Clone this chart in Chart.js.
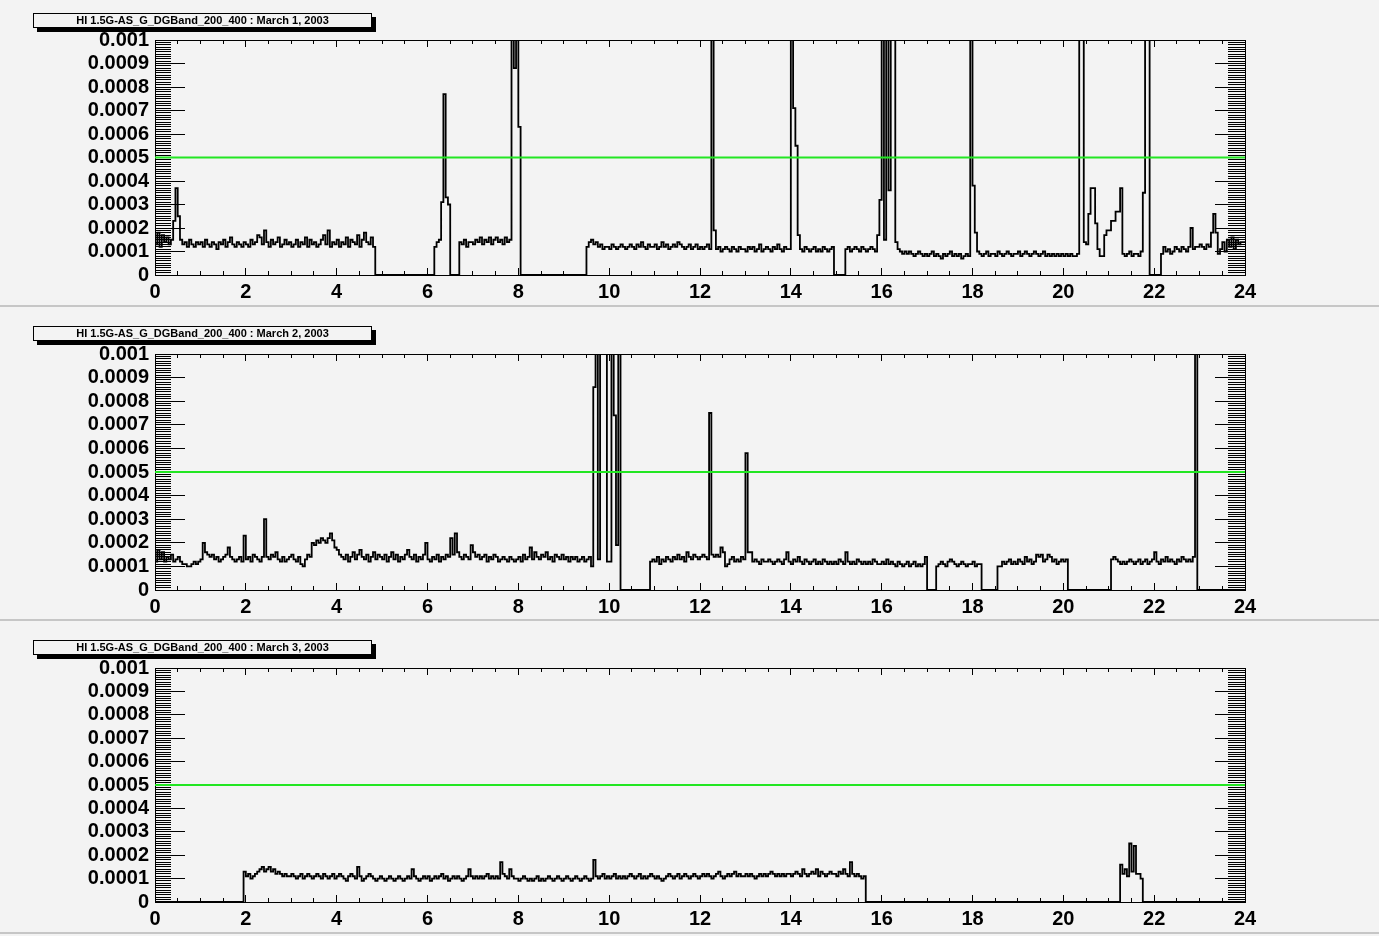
<!DOCTYPE html>
<html>
<head>
<meta charset="utf-8">
<script src="https://cdn.jsdelivr.net/npm/chart.js@4.4.1/dist/chart.umd.min.js"></script>
<style>
  html, body { margin: 0; padding: 0; background: #f3f3f3; }
  #page { position: relative; width: 1379px; height: 936px; overflow: hidden; }
  canvas { position: absolute; left: 0; }
  .sep { position: absolute; left: 0; width: 1379px; height: 2px; background: #c6c6c6; }
  .title {
    position: absolute; left: 33px; width: 337px; height: 13px;
    border: 1px solid #000; background: #f3f3f3; box-shadow: 4px 4px 0 #000;
    font: bold 11px "Liberation Sans", Arial, sans-serif; line-height: 13px;
    text-align: center; white-space: nowrap; z-index: 2;
  }
</style>
</head>
<body>
<div id="page">
  <canvas id="c1" width="1379" height="290" style="top:20px"></canvas>
  <canvas id="c2" width="1379" height="290" style="top:334px"></canvas>
  <canvas id="c3" width="1379" height="290" style="top:648px"></canvas>
  <div class="title" id="t1" style="top:13px"></div>
  <div class="title" id="t2" style="top:326px"></div>
  <div class="title" id="t3" style="top:640px"></div>
  <div class="sep" style="top:305px"></div>
  <div class="sep" style="top:619px"></div>
  <div class="sep" style="top:932px"></div>
</div>
<script>
const titles = [
  "HI 1.5G-AS_G_DGBand_200_400 : March 1, 2003",
  "HI 1.5G-AS_G_DGBand_200_400 : March 2, 2003",
  "HI 1.5G-AS_G_DGBand_200_400 : March 3, 2003",
];
const hourMax = 24;
const binWidth = 0.05; // hours per bin
const yMax = 0.001;
const threshold = 0.0005;
const unit = 1e-5; // bin values below are in units of 1e-5

// one row = one hour (20 bins)
const march1 = [
  16,13,18,12,17,14,16,13,15,23,37,25,15,13,14,12,15,13,12,14,
  13,14,12,15,13,12,14,13,11,14,13,15,12,14,16,13,12,14,13,12,
  14,13,12,15,13,14,17,16,13,19,14,12,15,13,14,16,12,13,15,13,
  14,12,13,15,12,14,13,16,12,15,13,14,12,13,15,17,13,19,12,14,
  13,15,12,14,13,16,12,15,14,13,17,12,15,18,14,13,16,12,0,0,
  0,0,0,0,0,0,0,0,0,0,0,0,0,0,0,0,0,0,0,0,
  0,0,0,0,12,14,15,31,77,33,30,0,0,0,0,14,13,15,12,14,
  14,13,15,14,16,13,15,14,16,13,15,16,14,15,13,16,14,15,120,88,
  120,63,0,0,0,0,0,0,0,0,0,0,0,0,0,0,0,0,0,0,
  0,0,0,0,0,0,0,0,0,0,0,12,14,15,13,14,12,13,11,12,
  12,11,13,12,11,12,13,12,11,12,13,12,11,13,12,14,12,11,13,12,
  12,13,11,12,14,12,13,11,12,13,12,14,13,12,11,12,13,11,12,13,
  11,12,11,12,13,11,120,19,11,12,10,11,12,11,10,12,11,10,12,11,
  11,10,12,11,12,10,11,13,10,11,12,11,10,12,11,13,11,10,12,11,
  11,120,71,55,17,11,10,12,11,10,11,12,10,11,10,12,11,10,11,12,
  0,0,0,0,0,11,12,10,11,12,11,10,12,11,10,11,12,11,10,17,
  32,120,15,120,36,120,120,14,11,10,9,10,9,10,9,8,9,10,9,8,
  9,8,9,10,8,9,8,7,9,8,9,10,8,9,8,9,7,8,9,8,
  120,38,18,10,9,8,9,10,8,9,9,8,10,9,8,9,10,9,8,9,
  9,10,8,9,10,9,8,9,10,9,8,9,10,8,9,8,9,8,9,8,
  9,8,9,8,9,8,8,9,120,120,14,13,26,37,37,22,11,8,8,17,
  19,19,23,23,27,27,37,9,8,9,10,8,9,9,8,10,35,120,120,0,
  0,0,0,0,9,12,10,11,9,10,12,11,10,12,11,10,12,20,11,12,
  12,13,12,11,13,12,18,26,18,9,11,14,10,15,12,16,11,15,13,14,
];

const march2 = [
  14,12,17,13,16,12,14,13,15,12,13,14,12,11,11,10,10,11,12,11,
  12,13,20,16,15,14,15,13,14,12,13,14,15,18,14,13,12,13,14,12,
  23,13,14,12,15,14,13,12,14,30,14,13,15,14,16,13,12,14,12,13,
  14,15,13,12,14,11,10,13,15,14,20,19,21,20,22,21,20,22,24,21,
  18,17,15,14,13,15,12,14,16,13,15,17,14,13,15,12,14,16,13,15,
  14,13,15,12,14,16,13,15,12,14,13,15,17,14,13,15,12,14,13,15,
  20,13,12,14,13,15,12,14,13,15,14,22,15,24,16,14,13,15,14,13,
  19,16,14,15,13,14,15,12,14,13,15,14,12,13,14,13,12,14,13,12,
  13,14,12,15,13,14,18,13,16,14,13,15,14,16,13,14,12,15,14,13,
  15,13,14,12,14,13,14,12,13,14,12,13,14,10,86,120,13,120,120,120,
  12,12,120,74,19,120,0,0,0,0,0,0,0,0,0,0,0,0,0,12,
  13,12,14,11,13,12,14,13,12,14,13,15,13,14,12,16,14,13,15,14,
  13,14,15,14,13,75,15,14,15,14,18,16,10,11,13,14,12,13,12,14,
  13,58,16,16,12,13,12,11,13,12,12,13,12,11,12,13,12,11,13,16,
  12,11,13,12,14,12,11,13,12,11,12,13,11,12,11,13,12,11,12,11,
  12,11,13,12,11,16,12,11,12,11,13,12,11,12,11,12,11,13,12,11,
  11,12,11,13,11,12,11,10,12,11,10,11,12,10,11,12,10,11,10,11,
  14,0,0,0,0,10,11,12,11,10,12,13,12,11,10,11,12,11,10,11,
  11,12,10,11,11,0,0,0,0,0,0,0,10,10,12,11,12,13,11,12,
  11,13,12,11,14,12,13,11,12,15,14,15,12,13,15,14,12,13,11,12,
  13,12,13,0,0,0,0,0,0,0,0,0,0,0,0,0,0,0,0,0,
  0,0,13,14,13,12,11,12,11,12,13,12,11,12,13,11,12,13,11,12,
  13,16,12,11,13,12,14,12,13,12,11,13,12,14,13,12,13,12,14,120,
  0,0,0,0,0,0,0,0,0,0,0,0,0,0,0,0,0,0,0,0,
];

const march3 = [
  0,0,0,0,0,0,0,0,0,0,0,0,0,0,0,0,0,0,0,0,
  0,0,0,0,0,0,0,0,0,0,0,0,0,0,0,0,0,0,0,0,
  13,11,12,10,11,12,13,14,15,13,14,15,13,14,12,13,12,11,12,11,
  11,12,11,10,11,12,10,11,12,11,10,11,12,11,10,12,11,10,11,12,
  10,11,12,11,10,9,11,12,11,10,15,11,9,10,11,12,11,10,9,10,
  11,10,9,10,11,10,9,10,11,10,9,10,11,10,14,11,10,9,10,11,
  10,11,9,10,11,10,11,12,10,11,9,10,11,10,11,10,9,10,11,14,
  11,10,11,10,11,10,11,12,10,11,10,11,10,17,12,11,10,14,11,10,
  10,9,10,11,10,9,10,9,10,11,9,10,9,10,11,10,9,10,11,10,
  9,10,11,10,9,10,11,10,9,10,11,10,9,10,18,11,10,11,12,10,
  11,10,11,12,10,11,10,11,10,11,12,11,10,11,12,10,11,10,11,12,
  11,10,11,10,9,10,11,12,11,10,11,12,10,11,12,11,10,11,12,11,
  10,11,12,11,12,11,10,11,12,13,11,10,11,12,11,12,13,11,12,11,
  11,12,11,12,11,10,11,12,11,12,11,12,13,12,11,12,11,12,11,12,
  12,11,12,13,12,11,14,12,11,12,13,12,14,11,13,12,11,12,13,12,
  12,11,13,12,14,12,11,17,12,11,12,11,10,11,0,0,0,0,0,0,
  0,0,0,0,0,0,0,0,0,0,0,0,0,0,0,0,0,0,0,0,
  0,0,0,0,0,0,0,0,0,0,0,0,0,0,0,0,0,0,0,0,
  0,0,0,0,0,0,0,0,0,0,0,0,0,0,0,0,0,0,0,0,
  0,0,0,0,0,0,0,0,0,0,0,0,0,0,0,0,0,0,0,0,
  0,0,0,0,0,0,0,0,0,0,0,0,0,0,0,0,0,0,0,0,
  0,0,0,0,0,0,16,12,14,11,25,13,24,12,12,10,0,0,0,0,
  0,0,0,0,0,0,0,0,0,0,0,0,0,0,0,0,0,0,0,0,
  0,0,0,0,0,0,0,0,0,0,0,0,0,0,0,0,0,0,0,0,
];

const labelFont = { family: "'Liberation Sans', Arial, sans-serif", size: 20, weight: "bold" };

function histogramPoints(values) {
  const pts = values.map((v, i) => ({ x: i * binWidth, y: v * unit }));
  pts.push({ x: values.length * binWidth, y: values[values.length - 1] * unit });
  return pts;
}

function fixWidth(w) {
  return (scale) => {
    scale.width = w;
    scale.paddingTop = 0;
    scale.paddingBottom = 0;
  };
}

function fixHeight(h) {
  return (scale) => {
    scale.height = h;
    scale.paddingLeft = 0;
    scale.paddingRight = 0;
  };
}

// extra unlabeled axes, only there to draw ROOT-style inner ticks
function tickAxis(position, max, step, length) {
  const vertical = position === "left" || position === "right";
  return {
    type: "linear",
    position,
    min: 0,
    max,
    grid: { drawOnChartArea: false, tickLength: -length, tickColor: "#000", tickWidth: 1 },
    border: { display: true, color: "#000", width: 1 },
    ticks: { display: false, stepSize: step, autoSkip: false },
    afterFit: vertical ? fixWidth(0) : fixHeight(0),
  };
}

function makePanel(canvasId, values, canvasTop, areaTop, areaBottom) {
  const canvas = document.getElementById(canvasId);
  const xAxisHeight = 25;
  new Chart(canvas, {
    type: "line",
    data: {
      datasets: [
        {
          data: [{ x: 0, y: threshold }, { x: hourMax, y: threshold }],
          borderColor: "#22e622",
          borderWidth: 2,
          pointRadius: 0,
          xAxisID: "x",
          yAxisID: "y",
        },
        {
          data: histogramPoints(values),
          borderColor: "#000",
          borderWidth: 1.8,
          pointRadius: 0,
          stepped: "after",
          fill: false,
          xAxisID: "x",
          yAxisID: "y",
        },
      ],
    },
    options: {
      responsive: false,
      animation: false,
      events: [],
      layout: {
        autoPadding: false,
        padding: {
          left: 0,
          right: canvas.width - 1245,
          top: areaTop - canvasTop,
          bottom: canvas.height - (areaBottom - canvasTop) - xAxisHeight,
        },
      },
      plugins: { legend: { display: false }, tooltip: { enabled: false } },
      scales: {
        x: {
          type: "linear",
          position: "bottom",
          min: 0,
          max: hourMax,
          weight: 10,
          grid: { drawOnChartArea: false, tickLength: -7, tickColor: "#000" },
          border: { color: "#000", width: 1 },
          ticks: { stepSize: 2, autoSkip: false, maxRotation: 0, padding: 12, color: "#000", font: labelFont },
          afterFit: fixHeight(xAxisHeight),
        },
        xMinor: tickAxis("bottom", hourMax, 0.5, 4),
        xTop: tickAxis("top", hourMax, 2, 7),
        xTopMinor: tickAxis("top", hourMax, 0.5, 4),
        y: {
          type: "linear",
          position: "left",
          min: 0,
          max: yMax,
          weight: 10,
          grid: { drawOnChartArea: false, tickLength: -30, tickColor: "#000" },
          border: { color: "#000", width: 1 },
          ticks: {
            stepSize: 0.0001,
            autoSkip: false,
            padding: 36,
            color: "#000",
            font: labelFont,
            callback: (v) => Number(v.toFixed(6)).toString(),
          },
          afterFit: fixWidth(155),
        },
        yMinor: tickAxis("left", yMax, 0.00001, 16),
        yRight: tickAxis("right", yMax, 0.0001, 30),
        yRightMinor: tickAxis("right", yMax, 0.00001, 17),
      },
    },
  });
}

["t1", "t2", "t3"].forEach((id, i) => {
  document.getElementById(id).textContent = titles[i];
});

makePanel("c1", march1, 20, 40, 275);
makePanel("c2", march2, 334, 354, 590);
makePanel("c3", march3, 648, 668, 902);
</script>
</body>
</html>
